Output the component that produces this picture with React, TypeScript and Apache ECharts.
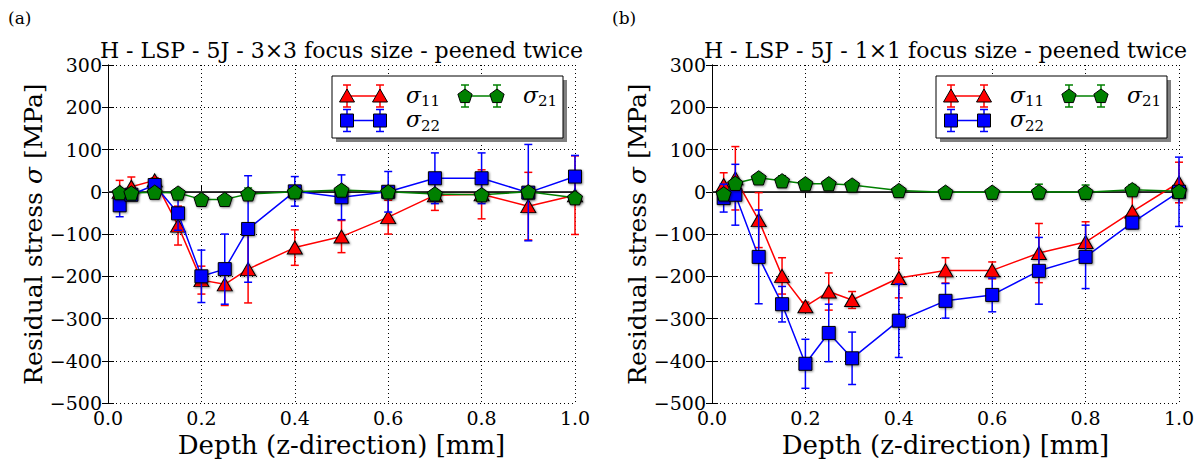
import React, { useEffect, useRef } from "react";
import * as echarts from "echarts";

// ---- data ----
const depth = [0.025, 0.05, 0.1, 0.15, 0.2, 0.25, 0.3, 0.4, 0.5, 0.6, 0.7, 0.8, 0.9, 1.0];

// (a) 3x3 focus size
const s11A = [0, 12, 27, -80, -209, -219, -183, -132, -106, -60, -8, -6, -34, -8];
const s11ErrA = [27, 23, 6, 46, 33, 50, 80, 42, 38, 40, 36, 58, 80, 93];
const s22A = [-32, -7, 16, -51, -200, -183, -88, 1, -13, 0, 32, 32, -2, 36];
const s22ErrA = [27, 10, 12, 40, 62, 83, 126, 35, 53, 48, 60, 60, 114, 50];
const s21A = [-2, -3, -1, -3, -18, -18, -5, 0, 4, 0, -5, -7, 0, -14];
const s21ErrA = [8, 5, 5, 5, 8, 5, 14, 4, 10, 8, 8, 10, 6, 5];

// (b) 1x1 focus size
const s11B = [16, 32, -67, -199, -271, -236, -256, -204, -186, -186, -145, -119, -47, 22];
const s11ErrB = [29, 75, 65, 43, 10, 44, 20, 47, 30, 20, 70, 48, 40, 48];
const s22B = [-15, -7, -154, -266, -407, -334, -394, -305, -258, -244, -187, -154, -73, 0];
const s22ErrB = [33, 72, 111, 42, 58, 68, 62, 87, 41, 40, 79, 75, 14, 82];
const s21B = [-5, 20, 33, 26, 19, 19, 16, 3, -1, -1, 0, -1, 5, 1];
const s21ErrB = [8, 12, 8, 12, 8, 5, 5, 5, 4, 4, 18, 17, 12, 8];

const titles = [
  "H - LSP - 5J - 3\u00d73 focus size - peened twice",
  "H - LSP - 5J - 1\u00d71 focus size - peened twice",
];
const panelLabels = ["(a)", "(b)"];
const yMin = -500, yMax = 300, yStep = 100;

const RED = "#ff0000";
const BLUE = "#0000ff";
const GREEN = "#008000";
const FONT = "'DejaVu Serif', serif";
const PENTA = "path://M0,-1 L0.951,-0.309 L0.588,0.809 L-0.588,0.809 L-0.951,-0.309 Z";

const GRID_LEFTS = [108, 712];
const GRID_TOP = 65;
const GRID_W = 467;
const GRID_H = 344;

function errSeries(xi: number, yi: number, vals: number[], errs: number[], color: string, z: number) {
  return {
    type: "custom",
    xAxisIndex: xi,
    yAxisIndex: yi,
    z,
    silent: true,
    encode: { x: 0, y: 1 },
    data: depth.map((d, i) => [d, vals[i], errs[i]]),
    renderItem: (params: any, api: any) => {
      const x = api.value(0), y = api.value(1), e = api.value(2);
      const top = api.coord([x, y + e]);
      const bot = api.coord([x, y - e]);
      const c = 4;
      const st = { stroke: color, lineWidth: 1.5 };
      return {
        type: "group",
        children: [
          { type: "line", shape: { x1: top[0], y1: top[1], x2: bot[0], y2: bot[1] }, style: st },
          { type: "line", shape: { x1: top[0] - c, y1: top[1], x2: top[0] + c, y2: top[1] }, style: st },
          { type: "line", shape: { x1: bot[0] - c, y1: bot[1], x2: bot[0] + c, y2: bot[1] }, style: st },
        ],
      };
    },
  };
}

function lineSeries(xi: number, yi: number, data: number[][], color: string, symbol: string, size: any, z: number, extra: any = {}) {
  return {
    type: "line",
    xAxisIndex: xi,
    yAxisIndex: yi,
    z,
    data,
    symbol,
    symbolSize: size,
    symbolKeepAspect: true,
    showAllSymbol: true,
    lineStyle: { color, width: 1.5 },
    itemStyle: {
      color,
      borderColor: "#000",
      borderWidth: 1,
      shadowColor: "rgba(0,0,0,0.45)",
      shadowBlur: 2,
      shadowOffsetX: 1,
      shadowOffsetY: 1,
    },
    emphasis: { disabled: true },
    ...extra,
  };
}

function legendGraphics(L: number, T: number) {
  const W = 231, H = 62;
  const els: any[] = [];
  els.push({ type: "rect", shape: { x: L + 4, y: T + 4, width: W, height: H }, style: { fill: "#808080" }, silent: true, z: 100 });
  els.push({ type: "rect", shape: { x: L, y: T, width: W, height: H }, style: { fill: "#fff", stroke: "#000", lineWidth: 1 }, silent: true, z: 101 });
  const marker = (kind: string, cx: number, cy: number, color: string) => {
    const ms = { fill: color, stroke: "#000", lineWidth: 1 };
    if (kind === "tri") {
      return { type: "polygon", shape: { points: [[cx, cy - 7], [cx + 7.5, cy + 6], [cx - 7.5, cy + 6]] }, style: ms, z: 104 };
    }
    if (kind === "sq") {
      return { type: "rect", shape: { x: cx - 6.5, y: cy - 6.5, width: 13, height: 13 }, style: ms, z: 104 };
    }
    const pts: number[][] = [];
    for (let k = 0; k < 5; k++) {
      const a = -Math.PI / 2 + (k * 2 * Math.PI) / 5;
      pts.push([cx + 7.5 * Math.cos(a), cy + 7.5 * Math.sin(a) + 0.5]);
    }
    return { type: "polygon", shape: { points: pts }, style: ms, z: 104 };
  };
  const entry = (kind: string, color: string, x1: number, x2: number, y: number, sub: string, tx: number) => {
    const st = { stroke: color, lineWidth: 1.5 };
    els.push({ type: "line", shape: { x1: L + x1, y1: T + y, x2: L + x2, y2: T + y }, style: st, z: 102 });
    [x1, x2].forEach((mx) => {
      const cx = L + mx, cy = T + y;
      els.push({ type: "line", shape: { x1: cx, y1: cy - 11, x2: cx, y2: cy + 11 }, style: st, z: 103 });
      els.push({ type: "line", shape: { x1: cx - 4, y1: cy - 11, x2: cx + 4, y2: cy - 11 }, style: st, z: 103 });
      els.push({ type: "line", shape: { x1: cx - 4, y1: cy + 11, x2: cx + 4, y2: cy + 11 }, style: st, z: 103 });
      els.push(marker(kind, cx, cy, color));
    });
    els.push({
      type: "text", x: L + tx, y: T + y - 1, z: 105,
      style: {
        text: "\u03c3", fontFamily: FONT, fontStyle: "italic", fontSize: 22,
        fill: "#000", textVerticalAlign: "middle", textAlign: "left",
      },
    });
    els.push({
      type: "text", x: L + tx + 15, y: T + y + 5, z: 105,
      style: {
        text: sub, fontFamily: FONT, fontSize: 15,
        fill: "#000", textVerticalAlign: "middle", textAlign: "left",
      },
    });
  };
  entry("tri", RED, 15, 48, 20, "11", 74);
  entry("sq", BLUE, 15, 48, 44.5, "22", 74);
  entry("pent", GREEN, 133, 165, 20, "21", 191);
  return els;
}

export default function App() {
  const ref = useRef<HTMLDivElement>(null);
  useEffect(() => {
    if (!ref.current) return;
    const chart = echarts.init(ref.current, null, { renderer: "svg" });

    const grids = GRID_LEFTS.map((l) => ({ left: l, top: GRID_TOP, width: GRID_W, height: GRID_H }));
    const xAxes: any[] = [];
    const yAxes: any[] = [];
    GRID_LEFTS.forEach((_, g) => {
      xAxes.push({
        type: "value", gridIndex: g, min: 0, max: 1, interval: 0.2, position: "bottom",
        axisLine: { show: true, lineStyle: { color: "#000", width: 1 } },
        axisTick: { show: true, inside: true, length: 6, lineStyle: { color: "#000" } },
        axisLabel: { show: true, fontFamily: FONT, fontSize: 19, color: "#000", margin: 5, formatter: (v: number) => v.toFixed(1) },
        splitLine: { show: true, lineStyle: { color: "#000", type: [1, 3], width: 1 } },
        name: "Depth (z-direction) [mm]", nameLocation: "middle", nameGap: 22,
        nameTextStyle: { fontFamily: FONT, fontSize: 26, color: "#000" },
      });
      xAxes.push({
        type: "value", gridIndex: g, min: 0, max: 1, interval: 0.2, position: "top",
        axisLine: { show: true, lineStyle: { color: "#000", width: 1 } },
        axisTick: { show: true, inside: true, length: 6, lineStyle: { color: "#000" } },
        axisLabel: { show: false }, splitLine: { show: false },
      });
      yAxes.push({
        type: "value", gridIndex: g, min: yMin, max: yMax, interval: yStep, position: "left",
        axisLine: { show: true, lineStyle: { color: "#000", width: 1 } },
        axisTick: { show: true, inside: true, length: 6, lineStyle: { color: "#000" } },
        axisLabel: {
          show: true, fontFamily: FONT, fontSize: 19, color: "#000", margin: 6,
          formatter: (v: number) => (v < 0 ? "\u2212" + Math.abs(v) : String(v)),
        },
        splitLine: { show: true, lineStyle: { color: "#000", type: [1, 3], width: 1 } },
        name: "{a|Residual stress }{b|\u03c3}{a| [MPa]}", nameLocation: "middle", nameGap: 50,
        nameTextStyle: {
          fontFamily: FONT, fontSize: 25, color: "#000",
          rich: {
            a: { fontFamily: FONT, fontSize: 25, color: "#000" },
            b: { fontFamily: FONT, fontSize: 25, color: "#000", fontStyle: "italic" },
          },
        },
      });
      yAxes.push({
        type: "value", gridIndex: g, min: yMin, max: yMax, interval: yStep, position: "right",
        axisLine: { show: true, lineStyle: { color: "#000", width: 1 } },
        axisTick: { show: true, inside: true, length: 6, lineStyle: { color: "#000" } },
        axisLabel: { show: false }, splitLine: { show: false },
      });
    });

    const sets = [
      { s11: s11A, e11: s11ErrA, s22: s22A, e22: s22ErrA, s21: s21A, e21: s21ErrA },
      { s11: s11B, e11: s11ErrB, s22: s22B, e22: s22ErrB, s21: s21B, e21: s21ErrB },
    ];
    const pts = (vals: number[]) => depth.map((d, i) => [d, vals[i]]);
    const series: any[] = [];
    sets.forEach((s, g) => {
      const xi = g * 2, yi = g * 2;
      // horizontal zero reference line across the axis range
      series.push(lineSeries(xi, yi, [[0, 0], [1, 0]], "#3a3a3a", "none", 0, 1, { silent: true }));
      series.push(errSeries(xi, yi, s.s11, s.e11, RED, 2));
      series.push(lineSeries(xi, yi, pts(s.s11), RED, "triangle", [15, 13], 3));
      series.push(errSeries(xi, yi, s.s22, s.e22, BLUE, 4));
      series.push(lineSeries(xi, yi, pts(s.s22), BLUE, "rect", 13, 5));
      series.push(errSeries(xi, yi, s.s21, s.e21, GREEN, 6));
      series.push(lineSeries(xi, yi, pts(s.s21), GREEN, PENTA, 15, 7));
    });

    const graphic: any[] = [];
    GRID_LEFTS.forEach((l, g) => {
      graphic.push({
        type: "text", x: l + GRID_W / 2, y: 50, z: 50,
        style: { text: titles[g], font: "22px " + FONT, fill: "#000", textAlign: "center", textVerticalAlign: "middle" },
      });
      graphic.push({
        type: "text", x: g === 0 ? 8 : 612, y: 18, z: 50,
        style: { text: panelLabels[g], font: "17px " + FONT, fill: "#000", textAlign: "left", textVerticalAlign: "middle" },
      });
      legendGraphics(l + GRID_W - 12 - 231, 76).forEach((e) => graphic.push(e));
    });

    chart.setOption({
      animation: false,
      backgroundColor: "#fff",
      grid: grids,
      xAxis: xAxes,
      yAxis: yAxes,
      series,
      graphic,
    });
    return () => chart.dispose();
  }, []);
  return <div ref={ref} style={{ position: "fixed", left: 0, top: 0, width: 1200, height: 463 }} />;
}
